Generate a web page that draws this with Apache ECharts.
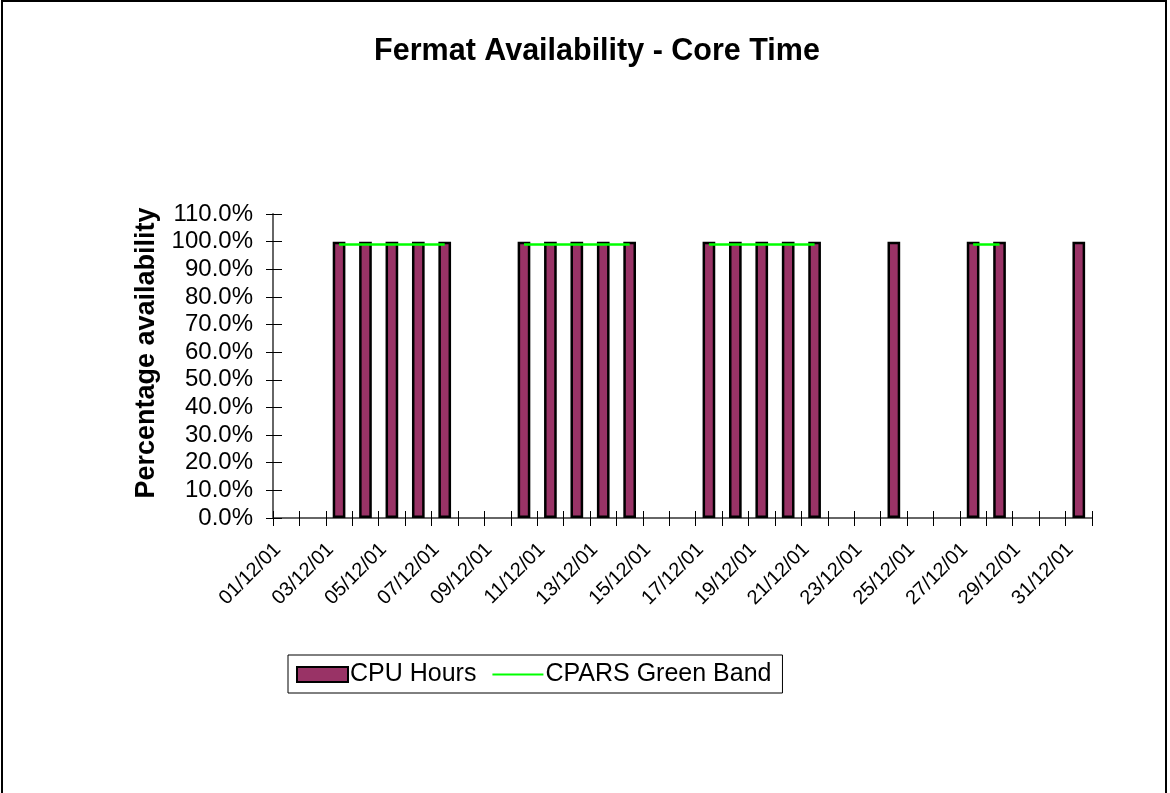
<!DOCTYPE html>
<html>
<head>
<meta charset="utf-8">
<script src="https://cdn.jsdelivr.net/npm/echarts@6/dist/echarts.min.js"></script>
<style>
html,body{margin:0;padding:0;background:#fff;}
#frame{position:absolute;left:1px;top:0px;width:1166px;height:900px;border:2px solid #000;box-sizing:border-box;}
#chart{position:absolute;left:0;top:0;width:1170px;height:793px;}
</style>
</head>
<body>
<div id="frame"></div>
<div id="chart"></div>
<script>
const categories = ['01/12/01','02/12/01','03/12/01','04/12/01','05/12/01','06/12/01','07/12/01','08/12/01','09/12/01','10/12/01',
  '11/12/01','12/12/01','13/12/01','14/12/01','15/12/01','16/12/01','17/12/01','18/12/01','19/12/01','20/12/01',
  '21/12/01','22/12/01','23/12/01','24/12/01','25/12/01','26/12/01','27/12/01','28/12/01','29/12/01','30/12/01','31/12/01'];
const cpuHours = [null,null,100,100,100,100,100,null,null,100,100,100,100,100,null,null,100,100,100,100,100,null,null,100,null,null,100,100,null,null,100];
const greenBand = [null,null,99,99,99,99,99,null,null,99,99,99,99,99,null,null,99,99,99,99,99,null,null,99,null,null,99,99,null,null,99];
const yTicks = [0,10,20,30,40,50,60,70,80,90,100,110];

const chart = echarts.init(document.getElementById('chart'), null, {renderer:'canvas'});
const font = 'Arial, "Liberation Sans", sans-serif';
chart.setOption({
  animation:false,
  backgroundColor:'transparent',
  title:{text:'Fermat Availability - Core Time',left:592,textAlign:'center',top:31,
    textStyle:{fontFamily:font,fontSize:30.5,fontWeight:'bold',color:'#000'}},
  grid:{left:273,right:78,top:214,bottom:275,containLabel:false},
  legend:{left:288,top:655,orient:'horizontal',itemWidth:51,itemHeight:15,itemGap:15,
    borderColor:'#000',borderWidth:1,padding:[7,11,6,8],
    textStyle:{fontFamily:font,fontSize:25,color:'#000',padding:[0,0,0,-3]},
    data:[{name:'CPU Hours',icon:'rect'},
          {name:'CPARS Green Band',itemStyle:{color:'rgba(0,0,0,0)',borderColor:'rgba(0,0,0,0)',borderWidth:0}}]},
  xAxis:[{type:'category',data:categories,
    axisLine:{lineStyle:{color:'#666',width:2}},
    axisTick:{show:true,interval:0,alignWithLabel:false,length:8,lineStyle:{color:'#000'}},
    axisLabel:{interval:1,rotate:45,margin:20,fontFamily:font,fontSize:20,color:'#000',padding:[0,12,0,0]}},
    {type:'category',data:categories,position:'bottom',
    axisLine:{show:false},axisTick:{show:true,interval:0,inside:true,length:7,lineStyle:{color:'#000'}},
    axisLabel:{show:false}}],
  yAxis:[{type:'value',min:yTicks[0],max:yTicks[yTicks.length-1],interval:10,
    name:'Percentage availability',nameLocation:'middle',nameGap:113,
    nameTextStyle:{fontFamily:font,fontSize:27,fontWeight:'bold',color:'#000',padding:[0,0,0,26]},
    axisLine:{show:true,lineStyle:{color:'#666',width:2}},
    axisTick:{show:true,length:7,lineStyle:{color:'#000'}},
    splitLine:{show:false},
    axisLabel:{margin:20,fontFamily:font,fontSize:24,color:'#000',formatter:v=>v.toFixed(1)+'%'}},
    {type:'value',min:yTicks[0],max:yTicks[yTicks.length-1],interval:10,position:'left',
    axisLine:{show:false},axisTick:{show:true,inside:true,length:9,lineStyle:{color:'#000'}},
    axisLabel:{show:false},splitLine:{show:false}}],
  series:[
    {name:'CPU Hours',type:'bar',data:cpuHours,barWidth:'48%',
      itemStyle:{color:'#993366',borderColor:'#000',borderWidth:2.5}},
    {name:'CPARS Green Band',type:'line',data:greenBand,symbol:'none',showSymbol:false,connectNulls:false,
      lineStyle:{color:'#00ff00',width:2.5},itemStyle:{color:'#00ff00'},z:5}
  ]
});
</script>
</body>
</html>
